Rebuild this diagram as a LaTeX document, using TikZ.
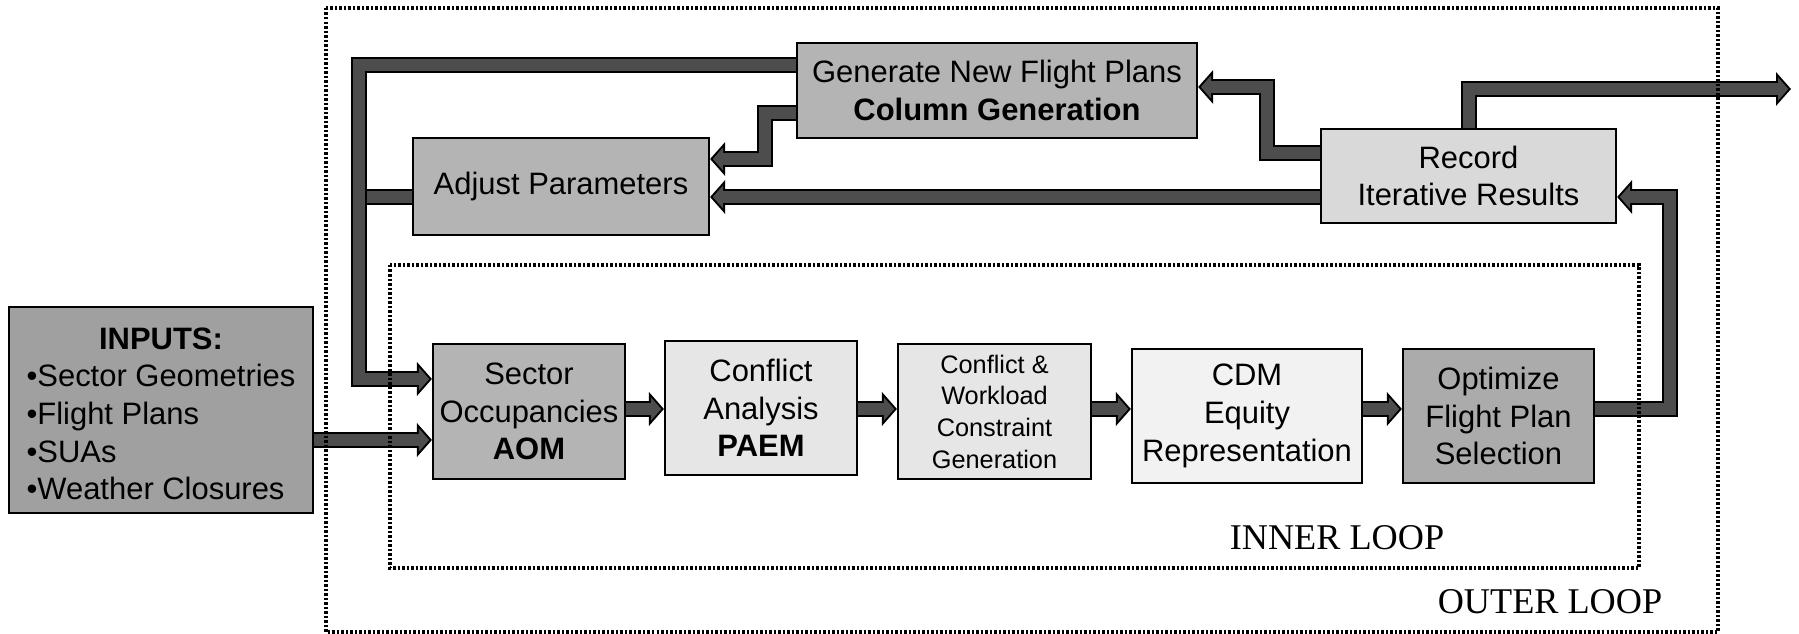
\documentclass[tikz,border=0pt]{standalone}
\usepackage{fontspec}
\setmainfont{Liberation Sans}
\newfontfamily\loopfont{Liberation Serif}
\usetikzlibrary{arrows.meta}

\definecolor{flowgray}{HTML}{4D4D4D}
\definecolor{inputgray}{HTML}{A0A0A0}
\definecolor{midgray}{HTML}{B4B4B4}
\definecolor{boxlight}{HTML}{E6E6E6}
\definecolor{boxpale}{HTML}{F2F2F2}
\definecolor{boxrec}{HTML}{D9D9D9}
\definecolor{boxopt}{HTML}{ABABAB}

\tikzset{
  box/.style={draw, line width=0.02cm, inner sep=0pt, align=center,
    font=\fontsize{8.8pt}{10.7pt}\selectfont},
  flow/.style={draw=flowgray, line width=0.12cm,
    -{Triangle[length=0.103cm,width=0.227cm]}, shorten >=0.027cm,
    preaction={draw=black, line width=0.16cm,
      -{Triangle[length=0.15cm,width=0.33cm]}, shorten >=0pt}},
  bar/.style={draw=flowgray, line width=0.12cm,
    preaction={draw=black, line width=0.16cm}},
  loopframe/.style={line width=0.035cm, dash pattern=on 0.025cm off 0.02cm},
  looplabel/.style={font=\loopfont\fontsize{10.3pt}{12pt}\selectfont}
}

\begin{document}
\begin{tikzpicture}[x=0.01cm,y=-0.01cm]
\useasboundingbox (0,0) rectangle (1799,634);

\node[box, fill=inputgray, minimum width=3.04cm, minimum height=2.06cm] (inputs) at (161,410)
  {\begin{tabular}{@{}l@{}}\noalign{\vskip 0.14cm}\multicolumn{1}{c}{\textbf{INPUTS:}}\\
   •Sector Geometries\\•Flight Plans\\•SUAs\\•Weather Closures\end{tabular}};
\node[box, fill=midgray, minimum width=1.92cm, minimum height=1.35cm] (sector) at (529,411.5)
  {Sector\\Occupancies\\\textbf{AOM}};
\node[box, fill=boxlight, minimum width=1.92cm, minimum height=1.34cm] (conf) at (761,408)
  {Conflict\\Analysis\\\textbf{PAEM}};
\node[box, fill=boxlight, minimum width=1.93cm, minimum height=1.35cm,
  font=\fontsize{7.2pt}{9pt}\selectfont] (cw) at (994.5,411.5)
  {Conflict \&\\Workload\\Constraint\\Generation};
\node[box, fill=boxpale, minimum width=2.30cm, minimum height=1.34cm] (cdm) at (1247,416)
  {CDM\\Equity\\Representation};
\node[box, fill=boxopt, minimum width=1.91cm, minimum height=1.34cm] (opt) at (1498.5,416)
  {Optimize\\Flight Plan\\Selection};
\node[box, fill=midgray, minimum width=4.00cm, minimum height=0.95cm] (gen) at (997,90.5)
  {Generate New Flight Plans\\\textbf{Column Generation}};
\node[box, fill=midgray, minimum width=2.96cm, minimum height=0.97cm] (adj) at (561,186.5)
  {Adjust Parameters};
\node[box, fill=boxrec, minimum width=2.95cm, minimum height=0.94cm] (rec) at (1468.5,176)
  {Record\\Iterative Results};

\coordinate (mid) at (0,409);
\coordinate (inp) at (0,440);
\coordinate (tl) at (359,65);
\coordinate (bl) at (359,379);
\coordinate (al) at (359,197);
\coordinate (g1) at (765,113);
\coordinate (g2) at (765,159);
\coordinate (r1) at (1267,153);
\coordinate (r2) at (1267,87);
\coordinate (out) at (1791,89);
\coordinate (o1) at (1670,409);
\coordinate (o2) at (1670,197);

\draw[bar] (adj.west |- al) -- (al);
\draw[flow] (gen.west |- tl) -- (tl) -- (bl) -- (sector.west |- bl);
\draw[flow] (inputs.east |- inp) -- (sector.west |- inp);
\draw[flow] (gen.west |- g1) -- (g1) -- (g2) -- (adj.east |- g2);
\draw[flow] (rec.west |- al) -- (adj.east |- al);
\draw[flow] (rec.west |- r1) -- (r1) -- (r2) -- (gen.east |- r2);
\draw[flow] (rec.north) -- (rec.north |- out) -- (out);
\draw[flow] (opt.east |- o1) -- (o1) -- (o2) -- (rec.east |- o2);
\draw[flow] (sector.east |- mid) -- (conf.west |- mid);
\draw[flow] (conf.east |- mid) -- (cw.west |- mid);
\draw[flow] (cw.east |- mid) -- (cdm.west |- mid);
\draw[flow] (cdm.east |- mid) -- (opt.west |- mid);

\draw[loopframe] (390,265) rectangle (1639,568);
\draw[loopframe] (326,8) rectangle (1718,632);
\node[looplabel] (inner) at (1337,538) {INNER LOOP};
\node[looplabel] (outer) at (1550,602) {OUTER LOOP};

\end{tikzpicture}
\end{document}
